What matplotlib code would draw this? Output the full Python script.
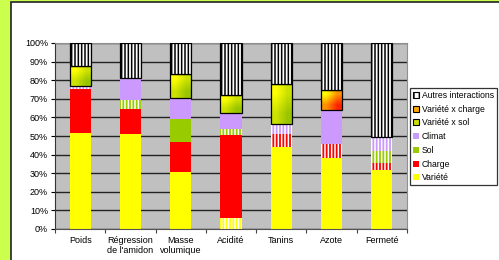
import numpy as np
import matplotlib.pyplot as plt
from matplotlib.patches import Patch, Rectangle
from matplotlib.colors import LinearSegmentedColormap

plt.rcParams['font.family'] = ['Liberation Sans', 'DejaVu Sans']
plt.rcParams['hatch.linewidth'] = 1.1

# Donnees (part de variance, en %)
categories = ['Poids', 'Régression\nde l\'amidon', 'Masse\nvolumique', 'Acidité',
              'Tanins', 'Azote', 'Fermeté']
series = ['Variété', 'Charge', 'Sol', 'Climat', 'Variété x sol',
          'Variété x charge', 'Autres interactions']
variete = [51.8, 51.1, 30.4, 5.7, 43.9, 38.2, 31.8]
charge = [23.6, 13.2, 16.6, 44.8, 7.2, 7.5, 3.9]
sol = [0.0, 5.3, 11.9, 3.1, 0.0, 0.0, 6.3]
climat = [1.4, 11.8, 11.3, 8.9, 5.3, 18.2, 7.6]
var_sol = [10.7, 0.0, 13.4, 9.5, 21.8, 0.0, 0.0]
var_charge = [0.0, 0.0, 0.0, 0.0, 0.0, 11.1, 0.0]
autres = [12.5, 18.6, 16.4, 28.0, 21.8, 25.0, 50.4]
# 1 = segment hachure (non significatif)
hachure = [
    [0, 0, 0, 1, 0, 0, 0],   # Variete
    [0, 0, 0, 0, 1, 1, 1],   # Charge
    [0, 1, 0, 1, 0, 0, 1],   # Sol
    [1, 0, 0, 0, 1, 0, 1],   # Climat
    [0, 0, 0, 0, 0, 0, 0],
    [0, 0, 0, 0, 0, 0, 0],
    [0, 0, 0, 0, 0, 0, 0],
]
valeurs = [variete, charge, sol, climat, var_sol, var_charge, autres]
couleurs = ['#ffff00', '#ff0000', '#99cc00', '#cc99ff', None, None, 'white']
degrades = {4: ('#ffff00', '#99c400'), 5: ('#ffff00', '#ff2200')}

fig = plt.figure(figsize=(4.99, 2.6), dpi=100)
fig.set_facecolor('#ccff4d')
fig.patches.append(Rectangle((10.5 / 499, -0.1), 1, 1.1 - 2.5 / 260,
                             transform=fig.transFigure, facecolor='white',
                             edgecolor='#222222', linewidth=1.2, zorder=-5))

ax = fig.add_axes([55 / 499, 31 / 260, 352 / 499, 186 / 260])
ax.set_facecolor('#c0c0c0')

x = np.arange(len(categories))
w = 0.42
bas = np.zeros(len(categories))
for s in range(len(series)):
    for i in range(len(categories)):
        v = valeurs[s][i]
        if v <= 0:
            continue
        if s in degrades:
            cm = LinearSegmentedColormap.from_list('g', degrades[s])
            ax.imshow([[0, 0.5], [0.5, 1]], cmap=cm, vmin=0, vmax=1,
                      extent=(x[i] - w / 2, x[i] + w / 2, bas[i], bas[i] + v),
                      aspect='auto', interpolation='bilinear', zorder=2)
            ax.bar(x[i], v, w, bottom=bas[i], facecolor='none',
                   edgecolor='black', linewidth=0.9, zorder=3)
        elif s == 6:
            ax.bar(x[i], v, w, bottom=bas[i], facecolor='white',
                   edgecolor='black', linewidth=0.9, hatch='|||||', zorder=3)
        elif hachure[s][i]:
            ax.bar(x[i], v, w, bottom=bas[i], facecolor=couleurs[s],
                   edgecolor='white', linewidth=0, hatch='|||||', zorder=2)
        else:
            ax.bar(x[i], v, w, bottom=bas[i], color=couleurs[s],
                   linewidth=0, zorder=2)
        bas[i] += v

ax.set_xlim(-0.5, len(categories) - 0.5)
ax.set_ylim(0, 100)
ax.set_yticks(range(0, 101, 10))
ax.set_yticklabels([f'{t}%' for t in range(0, 101, 10)], fontsize=6.5)
ax.set_xticks(x)
ax.set_xticklabels(categories, fontsize=6.5, linespacing=1.1)
ax.set_xticks(np.arange(len(categories) + 1) - 0.5, minor=True)
ax.tick_params(axis='x', which='major', length=0, pad=5)
ax.tick_params(axis='x', which='minor', length=3, width=0.8, color='#444444')
ax.tick_params(axis='y', length=3, width=0.8, pad=2)
ax.yaxis.grid(True, color='#222222', linewidth=1.0)
ax.set_axisbelow(True)
for cote in ['top', 'right']:
    ax.spines[cote].set_color('#909090')
ax.spines['left'].set_color('#333333')
ax.spines['bottom'].set_color('#555555')

poignees = [
    Patch(facecolor='white', edgecolor='black', hatch='|||', linewidth=0.8),
    Patch(facecolor='#ffaa00', edgecolor='black', linewidth=0.8),
    Patch(facecolor='#ccdd00', edgecolor='black', linewidth=0.8),
    Patch(facecolor=couleurs[3]),
    Patch(facecolor=couleurs[2]),
    Patch(facecolor=couleurs[1]),
    Patch(facecolor=couleurs[0]),
]
leg = fig.legend(poignees, series[::-1], loc='upper left',
                 bbox_to_anchor=(410 / 499, 1 - 88 / 260), fontsize=6.2,
                 frameon=True, fancybox=False, edgecolor='black',
                 handlelength=0.7, handleheight=0.7, handletextpad=0.3,
                 labelspacing=0.55, borderpad=0.35, borderaxespad=0)
leg.get_frame().set_linewidth(0.9)

fig.savefig('out.png', dpi=100, facecolor=fig.get_facecolor())
